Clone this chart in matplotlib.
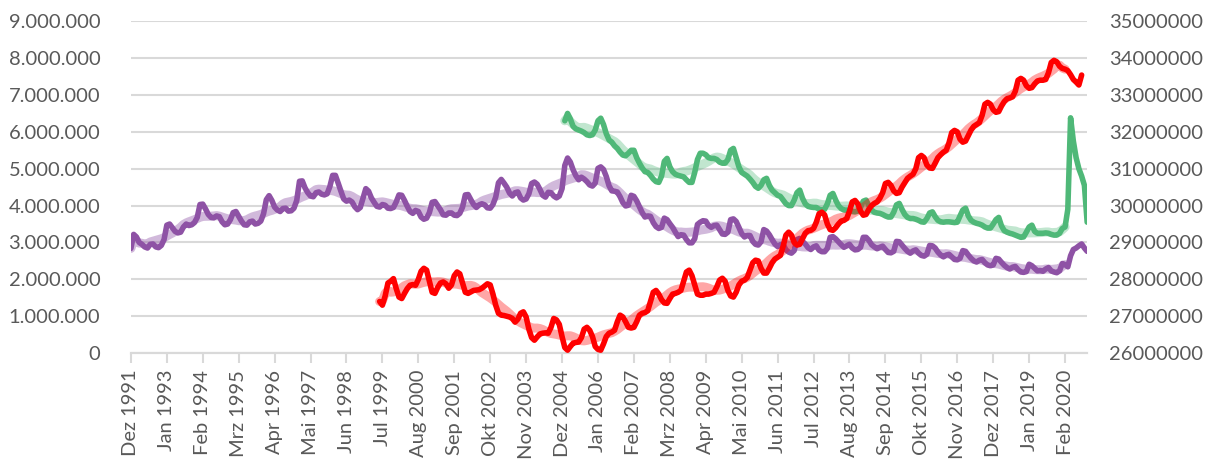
import numpy as np
import pandas as pd
import matplotlib
matplotlib.use("Agg")
import matplotlib.pyplot as plt
from matplotlib.ticker import FuncFormatter, MultipleLocator

plt.rcParams['font.family'] = ['Lato', 'DejaVu Sans']

# monthly axis, Dez 1991 .. Okt 2020
months = pd.period_range('1991-12', '2020-10', freq='M')

# Arbeitslose (left axis, thousands), Dez 1991 .. Okt 2020
purple = [2840,
    3220, 3150, 3000, 2950, 2880, 2850, 2950, 2960, 2880, 2860, 2920, 3080,
    3470, 3500, 3400, 3300, 3260, 3280, 3420, 3500, 3460, 3480, 3540, 3680,
    4030, 4040, 3910, 3760, 3680, 3670, 3720, 3700, 3560, 3480, 3500, 3620,
    3810, 3840, 3710, 3580, 3480, 3470, 3560, 3580, 3500, 3520, 3580, 3780,
    4160, 4270, 4140, 3960, 3880, 3840, 3920, 3930, 3850, 3860, 3930, 4140,
    4660, 4670, 4480, 4350, 4260, 4240, 4350, 4370, 4310, 4290, 4320, 4520,
    4820, 4820, 4610, 4390, 4180, 4120, 4150, 4100, 3970, 3890, 3950, 4200,
    4460, 4390, 4210, 4090, 3980, 3960, 4030, 4010, 3930, 3920, 3950, 4100,
    4290, 4280, 4140, 3980, 3840, 3790, 3870, 3840, 3690, 3630, 3660, 3810,
    4090, 4110, 4000, 3890, 3750, 3740, 3800, 3800, 3740, 3730, 3790, 3960,
    4290, 4300, 4160, 4030, 3950, 4020, 4050, 4020, 3940, 3930, 4030, 4230,
    4620, 4710, 4610, 4500, 4340, 4260, 4350, 4370, 4210, 4150, 4180, 4320,
    4600, 4640, 4580, 4440, 4280, 4230, 4360, 4350, 4260, 4210, 4260, 4460,
    5090, 5290, 5180, 4970, 4810, 4700, 4770, 4720, 4650, 4560, 4530, 4610,
    5010, 5050, 4980, 4790, 4540, 4400, 4390, 4370, 4240, 4080, 3990, 4010,
    4280, 4250, 4130, 3970, 3810, 3690, 3720, 3710, 3540, 3430, 3380, 3410,
    3660, 3620, 3510, 3410, 3280, 3160, 3210, 3200, 3080, 2990, 2990, 3100,
    3490, 3550, 3590, 3580, 3460, 3410, 3460, 3470, 3350, 3230, 3220, 3280,
    3620, 3640, 3570, 3410, 3240, 3150, 3190, 3190, 3030, 2950, 2930, 3020,
    3350, 3310, 3210, 3080, 2960, 2890, 2940, 2950, 2800, 2740, 2710, 2780,
    3080, 3110, 3030, 2960, 2860, 2810, 2880, 2910, 2790, 2750, 2750, 2840,
    3140, 3160, 3100, 3020, 2940, 2870, 2910, 2950, 2850, 2800, 2810, 2870,
    3140, 3140, 3060, 2940, 2880, 2830, 2870, 2900, 2810, 2730, 2720, 2760,
    3030, 3020, 2930, 2840, 2760, 2710, 2770, 2800, 2710, 2650, 2630, 2680,
    2920, 2910, 2850, 2740, 2660, 2610, 2660, 2680, 2610, 2540, 2530, 2570,
    2780, 2760, 2660, 2570, 2500, 2470, 2520, 2540, 2450, 2390, 2370, 2390,
    2570, 2550, 2460, 2380, 2320, 2280, 2330, 2350, 2260, 2200, 2190, 2210,
    2410, 2370, 2300, 2230, 2240, 2220, 2280, 2320, 2230, 2200, 2180, 2230,
    2430, 2400, 2340, 2640, 2810, 2850, 2910, 2960, 2850, 2760]

# Unterbeschaeftigung (left axis, thousands), Jan 2005 .. Okt 2020
green_start = '2005-01'
green = [
    6300, 6500, 6350, 6150, 6080, 6050, 6020, 5980, 5920, 5900, 5920, 6050,
    6300, 6370, 6200, 5950, 5780, 5720, 5620, 5550, 5450, 5370, 5350, 5420,
    5500, 5500, 5300, 5150, 5020, 4920, 4900, 4820, 4720, 4650, 4630, 4800,
    5200, 5280, 5050, 4920, 4850, 4820, 4800, 4780, 4700, 4630, 4630, 4900,
    5250, 5420, 5420, 5380, 5300, 5280, 5280, 5250, 5180, 5150, 5150, 5250,
    5500, 5550, 5300, 5050, 4900, 4850, 4800, 4720, 4630, 4520, 4470, 4550,
    4700, 4740, 4550, 4420, 4350, 4280, 4250, 4150, 4050, 4000, 4000, 4150,
    4350, 4420, 4200, 4050, 3980, 3960, 3950, 3950, 3900, 3880, 3900, 4050,
    4280, 4330, 4150, 4000, 3920, 3880, 3880, 3860, 3840, 3830, 3850, 3950,
    4120, 4150, 4000, 3880, 3820, 3800, 3790, 3760, 3720, 3690, 3690, 3820,
    4020, 4060, 3900, 3760, 3680, 3650, 3650, 3630, 3600, 3560, 3550, 3650,
    3800, 3830, 3700, 3600, 3560, 3550, 3560, 3560, 3550, 3540, 3550, 3720,
    3880, 3930, 3720, 3600, 3550, 3520, 3500, 3470, 3420, 3390, 3390, 3500,
    3620, 3680, 3450, 3320, 3280, 3250, 3230, 3200, 3170, 3140, 3150, 3280,
    3420, 3470, 3300, 3250, 3250, 3250, 3260, 3250, 3220, 3200, 3200, 3250,
    3380, 3420, 3900, 6380, 5750, 5300, 5000, 4800, 4550, 3550]

# SV-Beschaeftigte (right axis, thousands), Jun 1999 .. Aug 2020
red_start = '1999-06'
red = [
    27400, 27300, 27550, 27900, 27950, 28020, 27750,
    27520, 27480, 27620, 27750, 27840, 27860, 27840, 28000, 28220, 28300, 28250, 27950,
    27650, 27620, 27780, 27900, 27930, 27880, 27760, 27850, 28100, 28200, 28150, 27900,
    27650, 27620, 27660, 27700, 27710, 27720, 27760, 27820, 27880, 27850, 27600, 27300,
    27080, 27030, 27020, 27000, 26980, 26940, 26840, 26920, 27080, 27120, 26980, 26650,
    26420, 26350, 26440, 26520, 26540, 26550, 26540, 26700, 26940, 26900, 26780, 26450,
    26150, 26080, 26180, 26270, 26290, 26300, 26420, 26650, 26700, 26620, 26450, 26180,
    26100, 26080, 26250, 26450, 26540, 26570, 26620, 26850, 27030, 26980, 26850, 26700,
    26680, 26700, 26850, 27030, 27080, 27100, 27150, 27400, 27650, 27700, 27600, 27450,
    27360, 27350, 27480, 27600, 27620, 27650, 27700, 27950, 28200, 28250, 28100, 27850,
    27600, 27570, 27570, 27600, 27600, 27620, 27650, 27800, 27980, 28030, 27950, 27700,
    27550, 27520, 27650, 27850, 27950, 27980, 28050, 28250, 28450, 28520, 28500, 28300,
    28170, 28170, 28300, 28450, 28550, 28600, 28650, 28900, 29200, 29280, 29200, 29000,
    28930, 28950, 29100, 29250, 29320, 29330, 29380, 29550, 29780, 29820, 29750, 29500,
    29350, 29330, 29400, 29500, 29580, 29600, 29650, 29850, 30100, 30140, 30050, 29850,
    29740, 29760, 29900, 30000, 30060, 30100, 30200, 30350, 30600, 30630, 30550, 30400,
    30330, 30350, 30500, 30620, 30740, 30800, 30850, 31000, 31300, 31360, 31300, 31100,
    31020, 31010, 31150, 31300, 31380, 31450, 31500, 31700, 31980, 32040, 32000, 31800,
    31720, 31750, 31900, 32050, 32150, 32200, 32250, 32450, 32750, 32800, 32750, 32600,
    32530, 32550, 32700, 32820, 32900, 32920, 32950, 33100, 33400, 33450, 33400, 33250,
    33180, 33200, 33300, 33380, 33400, 33400, 33420, 33600, 33880, 33940, 33900, 33780,
    33720, 33700, 33660, 33550, 33420, 33350, 33270, 33540]

xtick_labels = ['Dez 1991', 'Jan 1993', 'Feb 1994', 'Mrz 1995', 'Apr 1996', 'Mai 1997',
                'Jun 1998', 'Jul 1999', 'Aug 2000', 'Sep 2001', 'Okt 2002', 'Nov 2003',
                'Dez 2004', 'Jan 2006', 'Feb 2007', 'Mrz 2008', 'Apr 2009', 'Mai 2010',
                'Jun 2011', 'Jul 2012', 'Aug 2013', 'Sep 2014', 'Okt 2015', 'Nov 2016',
                'Dez 2017', 'Jan 2019', 'Feb 2020']

# trend (light line) ends before the 2020 shock
trend_end = '2020-02'

col_purple = '#8E52A5'
col_green = '#4FB878'
col_red = '#FF0000'
txt = '#595959'


def series(values, start):
    idx = pd.period_range(start, periods=len(values), freq='M')
    pos = np.array([months.get_loc(p) for p in idx])
    return pd.Series(np.array(values) * 1000.0, index=pos), idx


def trend(s, idx):
    # centred moving average, window shrinks symmetrically at the ends
    part = s[idx <= pd.Period(trend_end, 'M')]
    v = part.values
    n = len(v)
    out = []
    for i in range(n):
        k = min(6, i, n - 1 - i)
        out.append(v[i - k:i + k + 1].mean())
    return pd.Series(out, index=part.index)


s_purple, i_purple = series(purple, months[0].strftime('%Y-%m'))
s_green, i_green = series(green, green_start)
s_red, i_red = series(red, red_start)

fig = plt.figure(figsize=(12.12, 4.61), dpi=100)
ax = fig.add_axes([0.108, 0.234, 0.789, 0.72])
ax2 = ax.twinx()

ax.plot(trend(s_purple, i_purple), color=col_purple, alpha=0.4, lw=6.5, solid_capstyle='round', zorder=2)
ax.plot(trend(s_green, i_green), color=col_green, alpha=0.35, lw=6.5, solid_capstyle='round', zorder=2)
ax.plot(s_purple, color=col_purple, lw=4, solid_joinstyle='round', solid_capstyle='round', zorder=3)
ax.plot(s_green, color=col_green, lw=4, solid_joinstyle='round', solid_capstyle='round', zorder=3)

ax2.plot(trend(s_red, i_red), color=col_red, alpha=0.35, lw=6.5, solid_capstyle='round', zorder=2)
ax2.plot(s_red, color=col_red, lw=4, solid_joinstyle='round', solid_capstyle='round', zorder=3)

ax.set_xlim(0, len(months) - 1)
ax.set_ylim(0, 9000000)
ax2.set_ylim(26000000, 35000000)
ax.yaxis.set_major_locator(MultipleLocator(1000000))
ax2.yaxis.set_major_locator(MultipleLocator(1000000))
ax.yaxis.set_major_formatter(FuncFormatter(lambda v, p: f'{int(v):,}'.replace(',', '.')))
ax2.yaxis.set_major_formatter(FuncFormatter(lambda v, p: f'{int(v)}'))

ax.grid(axis='y', color='#D9D9D9', lw=1.5)
ax.set_axisbelow(True)
for a in (ax, ax2):
    for side in ('top', 'left', 'right'):
        a.spines[side].set_visible(False)
    a.spines['bottom'].set_color('#D9D9D9')
    a.spines['bottom'].set_linewidth(1.5)

ax.set_xticks(np.arange(0, len(months), 13))
ax.set_xticklabels(xtick_labels, rotation=90)
ax.tick_params(axis='x', length=7, width=1.5, color='#D9D9D9', labelsize=14.5, labelcolor=txt, pad=5)
ax.tick_params(axis='y', length=0, labelsize=14.5, labelcolor=txt, pad=22)
ax2.tick_params(axis='y', length=0, labelsize=14.5, labelcolor=txt, pad=16)

fig.savefig('out.png', dpi=100)
